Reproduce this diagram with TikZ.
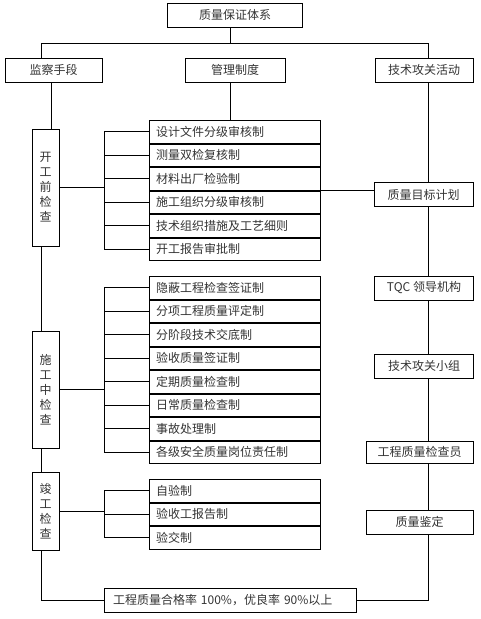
\documentclass[tikz,border=0pt]{standalone}
\usepackage{fontspec}
\setmainfont{Noto Sans CJK SC}
\usetikzlibrary{positioning,calc}
\tikzset{
  box/.style  = {rectangle, draw, line width=0.9pt, minimum height=24pt, inner sep=2pt,
                 font=\fontsize{12}{14}\selectfont, text=black!80},
  row/.style  = {box, minimum height=22.6pt, text width=157pt, align=left, inner xsep=7pt},
  vbox/.style = {box, text width=12pt, inner xsep=7.5pt, align=center,
                 font=\fontsize{12}{15}\selectfont},
  wire/.style = {line width=0.9pt},
}

\begin{document}
\begin{tikzpicture}[x=1pt, y=-1pt]

  \useasboundingbox (0,0) rectangle (481,619);

  % spines
  \coordinate (bus) at (0,43);
  \coordinate (lx)  at (41,0);
  \coordinate (jx)  at (51,0);
  \coordinate (bx)  at (104,0);
  \coordinate (mx)  at (230,0);
  \coordinate (rx)  at (428,0);

  % top levels
  \node[box, minimum width=135pt] (top) at (235,15)   {质量保证体系};
  \node[box, minimum width=97pt]  (jc)  at (53.5,70)  {监察手段};
  \node[box, minimum width=100pt] (gl)  at (235,70)   {管理制度};
  \node[box, minimum width=98pt]  (js)  at (424,70)   {技术攻关活动};

  % checks on the left
  \node[vbox, minimum height=117pt] (kg) at (45.5,187.5) {开\\工\\前\\检\\查};
  \node[vbox, minimum height=117pt] (sg) at (45.5,389.5) {施\\工\\中\\检\\查};
  \node[vbox, minimum height=78pt]  (jg) at (45.5,511)   {竣\\工\\检\\查};

  % rules before work
  \node[row] (a1) at (234.5,131.75) {设计文件分级审核制};
  \node[row, below=0pt of a1] (a2) {测量双检复核制};
  \node[row, below=0pt of a2] (a3) {材料出厂检验制};
  \node[row, below=0pt of a3] (a4) {施工组织分级审核制};
  \node[row, below=0pt of a4] (a5) {技术组织措施及工艺细则};
  \node[row, below=0pt of a5] (a6) {开工报告审批制};

  % rules during work
  \node[row] (b1) at (234.5,287.75) {隐蔽工程检查签证制};
  \node[row, below=0pt of b1] (b2) {分项工程质量评定制};
  \node[row, below=0pt of b2] (b3) {分阶段技术交底制};
  \node[row, below=0pt of b3] (b4) {验收质量签证制};
  \node[row, below=0pt of b4] (b5) {定期质量检查制};
  \node[row, below=0pt of b5] (b6) {日常质量检查制};
  \node[row, below=0pt of b6] (b7) {事故处理制};
  \node[row, below=0pt of b7] (b8) {各级安全质量岗位责任制};

  % rules at completion
  \node[row] (c1) at (234.5,490.75) {自验制};
  \node[row, below=0pt of c1] (c2) {验收工报告制};
  \node[row, below=0pt of c2] (c3) {验交制};

  % technical chain on the right
  \node[box, minimum width=99pt]  (mb)  at (423.5,194.5) {质量目标计划};
  \node[box, minimum width=99pt]  (tqc) at (424,288)     {TQC 领导机构};
  \node[box, minimum width=99pt]  (xz)  at (424,366)     {技术攻关小组};
  \node[box, minimum width=107pt, minimum height=22pt] (jcy) at (419.5,452) {工程质量检查员};
  \node[box, minimum width=107pt] (jd)  at (419.5,522)   {质量鉴定};

  % target
  \node[box, text width=234pt, inner xsep=9pt, align=left] (goal) at (230,600)
    {工程质量合格率 100\%，优良率 90\%以上};

  % top bus
  \draw[wire] (top.south -| mx) -- (bus -| mx);
  \draw[wire] (jc.north -| lx) -- (bus -| lx) -- (bus -| rx) -- (js.north -| rx);
  \draw[wire] (gl.south -| mx) -- (a1.north -| mx);

  % left spine
  \draw[wire] (jc.south -| jx) -- (kg.north -| jx);
  \draw[wire] (kg.south -| lx) -- (sg.north -| lx);
  \draw[wire] (sg.south -| lx) -- (jg.north -| lx);
  \draw[wire] (jg.south -| lx) |- (goal.west);

  % brackets
  \draw[wire] (kg.east) -- (kg.east -| bx);
  \draw[wire] (a1.west -| bx) -- (a6.west -| bx);
  \draw[wire] (a1.west -| bx) -- (a1.west);
  \draw[wire] (a2.west -| bx) -- (a2.west);
  \draw[wire] (a3.west -| bx) -- (a3.west);
  \draw[wire] (a4.west -| bx) -- (a4.west);
  \draw[wire] (a5.west -| bx) -- (a5.west);
  \draw[wire] (a6.west -| bx) -- (a6.west);

  \draw[wire] (sg.east) -- (sg.east -| bx);
  \draw[wire] (b1.west -| bx) -- (b8.west -| bx);
  \draw[wire] (b1.west -| bx) -- (b1.west);
  \draw[wire] (b2.west -| bx) -- (b2.west);
  \draw[wire] (b3.west -| bx) -- (b3.west);
  \draw[wire] (b4.west -| bx) -- (b4.west);
  \draw[wire] (b5.west -| bx) -- (b5.west);
  \draw[wire] (b6.west -| bx) -- (b6.west);
  \draw[wire] (b7.west -| bx) -- (b7.west);
  \draw[wire] (b8.west -| bx) -- (b8.west);

  \draw[wire] (jg.east) -- (jg.east -| bx);
  \draw[wire] (c1.west -| bx) -- (c3.west -| bx);
  \draw[wire] (c1.west -| bx) -- (c1.west);
  \draw[wire] (c2.west -| bx) -- (c2.west);
  \draw[wire] (c3.west -| bx) -- (c3.west);

  % right spine
  \draw[wire] (a4.north east) -- (a4.north east -| mb.west);
  \draw[wire] (js.south -| rx)  -- (mb.north -| rx);
  \draw[wire] (mb.south -| rx)  -- (tqc.north -| rx);
  \draw[wire] (tqc.south -| rx) -- (xz.north -| rx);
  \draw[wire] (xz.south -| rx)  -- (jcy.north -| rx);
  \draw[wire] (jcy.south -| rx) -- (jd.north -| rx);
  \draw[wire] (jd.south -| rx)  |- (goal.east);

\end{tikzpicture}
\end{document}
